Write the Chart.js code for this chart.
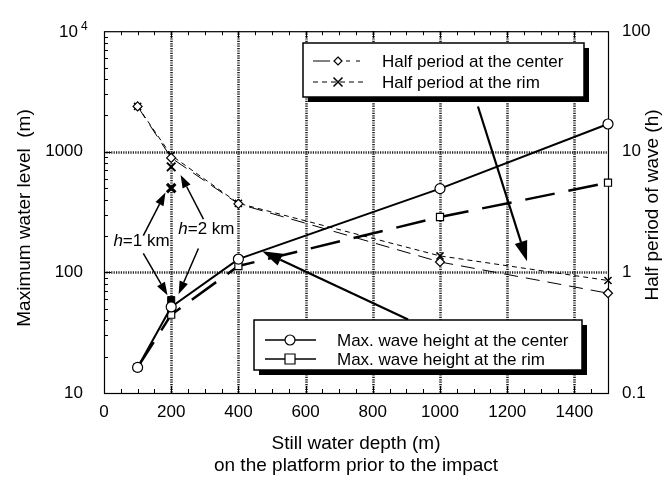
<!DOCTYPE html>
<html><head><meta charset="utf-8">
<script src="https://cdn.jsdelivr.net/npm/chart.js@4.4.0/dist/chart.umd.min.js"></script>
<style>html,body{margin:0;padding:0;background:#fff}#wrap{width:671px;height:477px}</style>
</head><body><div id="wrap"><canvas id="c" width="671" height="477"></canvas></div>
<script>
// ---- data ----
const depths = [100, 200, 400, 1000, 1500];
const heightCenter = [16.3, 51.7, 129, 495, 1700];   // m, left axis
const heightRim = [16.3, 44.6, 113, 288, 554];       // m, left axis
const periodCenter = [23.8, 8.9, 3.7, 1.22, 0.672];  // h, right axis
const periodRim = [23.8, 9.35, 3.74, 1.37, 0.857];   // h, right axis
const extraDepth = [200];
const h1Height = [58.9];
const h1Period = [5.0];
const h2Period = [7.5];
const xTicks = [0, 200, 400, 600, 800, 1000, 1200, 1400];
const yTicks = [10, 100, 1000, 10000];
const y2Ticks = [0.1, 1, 10, 100];

// annotations in data coordinates (x: m, y: left axis m)
const arrows = [
  {x1:117, y1:202, x2:183, y2:459, w:1.5, hl:13, hw:9},
  {x1:117, y1:144, x2:189, y2:64.7, w:1.5, hl:13, hw:9},
  {x1:296, y1:277, x2:228, y2:643, w:1.5, hl:13, hw:9},
  {x1:281, y1:158, x2:222, y2:66, w:1.5, hl:13, hw:9},
  {x1:1113, y1:2375, x2:1259, y2:124, w:2.2, hl:20, hw:13},
  {x1:905, y1:40.6, x2:471, y2:150, w:2.2, hl:20, hw:13}
];
const hLabels = [{x:28, y:180, t:'=1 km'}, {x:221, y:226, t:'=2 km'}];

const pts = (xs, ys) => xs.map((x, i) => ({x, y: ys[i]}));
const FONT = '"Liberation Sans", Arial, sans-serif';

function drawMarker(ctx, style, x, y, r, fill) {
  ctx.save();
  ctx.lineWidth = 1.2; ctx.strokeStyle = '#000'; ctx.fillStyle = fill || '#fff';
  ctx.setLineDash([]);
  ctx.beginPath();
  if (style === 'circle') { ctx.arc(x, y, r, 0, Math.PI*2); ctx.fill(); ctx.stroke(); }
  else if (style === 'rect') { ctx.rect(x-r, y-r, 2*r, 2*r); ctx.fill(); ctx.stroke(); }
  else if (style === 'rectRot') { ctx.moveTo(x, y-r); ctx.lineTo(x+r, y); ctx.lineTo(x, y+r); ctx.lineTo(x-r, y); ctx.closePath(); ctx.fill(); ctx.stroke(); }
  else if (style === 'crossRot') { ctx.lineWidth = 1.5; ctx.moveTo(x-r, y-r); ctx.lineTo(x+r, y+r); ctx.moveTo(x+r, y-r); ctx.lineTo(x-r, y+r); ctx.stroke(); }
  ctx.restore();
}

function arrow(ctx, x1, y1, x2, y2, w, hl, hw) {
  const a = Math.atan2(y2-y1, x2-x1);
  const bx = x2 - hl*Math.cos(a), by = y2 - hl*Math.sin(a);
  ctx.save();
  ctx.strokeStyle = '#000'; ctx.fillStyle = '#000'; ctx.lineWidth = w; ctx.setLineDash([]);
  ctx.beginPath(); ctx.moveTo(x1, y1); ctx.lineTo(bx, by); ctx.stroke();
  ctx.beginPath(); ctx.moveTo(x2, y2);
  ctx.lineTo(bx + hw/2*Math.sin(a), by - hw/2*Math.cos(a));
  ctx.lineTo(bx - hw/2*Math.sin(a), by + hw/2*Math.cos(a));
  ctx.closePath(); ctx.fill();
  ctx.restore();
}

const framePlugin = {
  id: 'frame',
  beforeDatasetsDraw(chart) {
    const {ctx, chartArea: ca, scales: {x, y}} = chart;
    ctx.save();
    // dotted grid
    ctx.strokeStyle = '#222'; ctx.lineWidth = 2.6; ctx.setLineDash([1.2, 1.2]);
    xTicks.filter(v => v > 0).forEach(v => {
      const px = Math.round(x.getPixelForValue(v)) + 0.5;
      ctx.beginPath(); ctx.moveTo(px, ca.top); ctx.lineTo(px, ca.bottom); ctx.stroke();
    });
    [100, 1000].forEach(v => {
      const py = Math.round(y.getPixelForValue(v)) + 0.5;
      ctx.beginPath(); ctx.moveTo(ca.left, py); ctx.lineTo(ca.right, py); ctx.stroke();
    });
    ctx.setLineDash([]);
    // frame
    ctx.strokeStyle = '#000'; ctx.lineWidth = 1.2;
    ctx.strokeRect(ca.left + 0.5, ca.top + 0.5, ca.right - ca.left, ca.bottom - ca.top);
    // minor ticks
    ctx.lineWidth = 1;
    for (let v = 50; v < 1500; v += 50) {
      const px = Math.round(x.getPixelForValue(v)) + 0.5;
      const L = (v % 200 === 0) ? 7 : 4;
      ctx.beginPath(); ctx.moveTo(px, ca.bottom); ctx.lineTo(px, ca.bottom - L);
      ctx.moveTo(px, ca.top); ctx.lineTo(px, ca.top + L); ctx.stroke();
    }
    for (let d = 10; d < 10000; d *= 10) {
      for (let m = 1; m < 10; m++) {
        const py = Math.round(y.getPixelForValue(d*m)) + 0.5;
        ctx.beginPath(); ctx.moveTo(ca.left, py); ctx.lineTo(ca.left + (m === 1 ? 7 : 4), py); ctx.stroke();
      }
    }
    ctx.restore();
  },
  afterDatasetsDraw(chart) {
    const {ctx, chartArea: ca, scales: {x, y}} = chart;
    ctx.save();
    // arrows
    arrows.forEach(a => arrow(ctx, x.getPixelForValue(a.x1), y.getPixelForValue(a.y1),
      x.getPixelForValue(a.x2), y.getPixelForValue(a.y2), a.w, a.hl, a.hw));
    // h labels
    ctx.fillStyle = '#000'; ctx.textBaseline = 'middle'; ctx.textAlign = 'left';
    hLabels.forEach(l => {
      const px = x.getPixelForValue(l.x), py = y.getPixelForValue(l.y);
      ctx.font = 'italic 17px ' + FONT; ctx.fillText('h', px, py);
      const w = ctx.measureText('h').width;
      ctx.font = '17px ' + FONT; ctx.fillText(l.t, px + w, py);
    });
    // legend boxes
    const box = (x0, y0, x1, y1) => {
      ctx.fillStyle = '#000'; ctx.fillRect(x0 + 5, y0 + 5, x1 - x0, y1 - y0);
      ctx.fillStyle = '#fff'; ctx.fillRect(x0, y0, x1 - x0, y1 - y0);
      ctx.strokeStyle = '#000'; ctx.lineWidth = 1.5; ctx.setLineDash([]);
      ctx.strokeRect(x0, y0, x1 - x0, y1 - y0);
    };
    const seg = (x0, x1, yy, dash, w) => {
      ctx.save(); ctx.strokeStyle = '#000'; ctx.lineWidth = w; ctx.setLineDash(dash);
      ctx.beginPath(); ctx.moveTo(x0, yy); ctx.lineTo(x1, yy); ctx.stroke(); ctx.restore();
    };
    ctx.font = '17px ' + FONT; ctx.textBaseline = 'middle'; ctx.textAlign = 'left';
    box(303, 43, 584, 97);
    seg(313, 330, 61, [], 1); seg(346, 364, 61, [4, 6], 1); drawMarker(ctx, 'rectRot', 338, 61, 4);
    seg(313, 364, 82, [5, 4], 1); drawMarker(ctx, 'crossRot', 338, 82, 4.5);
    ctx.fillStyle = '#000';
    ctx.fillText('Half period at the center', 382, 62);
    ctx.fillText('Half period at the rim', 382, 83);
    box(254, 320, 582, 370);
    seg(265, 316, 340, [], 1.3); drawMarker(ctx, 'circle', 290, 340, 5);
    seg(265, 316, 359, [], 1.3); drawMarker(ctx, 'rect', 290, 359, 5);
    ctx.fillStyle = '#000';
    ctx.fillText('Max. wave height at the center', 337, 341);
    ctx.fillText('Max. wave height at the rim', 337, 360);
    // 10^4 label
    ctx.textAlign = 'right'; ctx.font = '17px ' + FONT;
    const py4 = y.getPixelForValue(10000);
    ctx.fillText('10', 78, py4 + 1);
    ctx.font = '12px ' + FONT; ctx.textAlign = 'left';
    ctx.fillText('4', 81, py4 - 5);
    // axis titles
    ctx.fillStyle = '#000'; ctx.textAlign = 'center'; ctx.font = '19px ' + FONT;
    const cx = (ca.left + ca.right) / 2;
    ctx.fillText('Still water depth (m)', cx, 444);
    ctx.fillText('on the platform prior to the impact', cx, 466);
    ctx.save(); ctx.translate(25, 218); ctx.rotate(-Math.PI/2);
    ctx.fillText('Maximum water level  (m)', 0, 0); ctx.restore();
    ctx.save(); ctx.translate(653, 205); ctx.rotate(-Math.PI/2);
    ctx.fillText('Half period of wave (h)', 0, 0); ctx.restore();
    ctx.restore();
  }
};

const base = {showLine: true, borderColor: '#000', pointBorderColor: '#000', pointBackgroundColor: '#fff', clip: false, tension: 0};
const chart = new Chart(document.getElementById('c'), {
  type: 'scatter',
  data: {
    datasets: [
      {...base, label: 'Max. wave height at the center', data: pts(depths, heightCenter), yAxisID: 'y',
        borderWidth: 2, pointStyle: 'circle', pointRadius: 5, pointBorderWidth: 1.2},
      {...base, label: 'Max. wave height at the rim', data: pts(depths, heightRim), yAxisID: 'y',
        borderWidth: 2.5, borderDash: [30, 14], pointStyle: 'rect', pointRadius: 5, pointBorderWidth: 1.2},
      {...base, label: 'Half period at the center', data: pts(depths, periodCenter), yAxisID: 'y2',
        borderWidth: 1, borderDash: [14, 8], pointStyle: 'rectRot', pointRadius: 4.5, pointBorderWidth: 1.2},
      {...base, label: 'Half period at the rim', data: pts(depths, periodRim), yAxisID: 'y2',
        borderWidth: 1, borderDash: [5, 4], pointStyle: 'crossRot', pointRadius: 5, pointBorderWidth: 1.5},
      {...base, showLine: false, label: 'h=1 km height', data: pts(extraDepth, h1Height), yAxisID: 'y',
        pointStyle: 'rect', pointRadius: 5, pointBackgroundColor: '#000'},
      {...base, showLine: false, label: 'h=1 km period', data: pts(extraDepth, h1Period), yAxisID: 'y2',
        pointStyle: 'crossRot', pointRadius: 6, pointBorderWidth: 3},
      {...base, showLine: false, label: 'h=2 km period', data: pts(extraDepth, h2Period), yAxisID: 'y2',
        pointStyle: 'crossRot', pointRadius: 6, pointBorderWidth: 2}
    ]
  },
  options: {
    responsive: false, animation: false, devicePixelRatio: 1,
    layout: {padding: {top: 23, left: 0, right: 0, bottom: 0}},
    plugins: {legend: {display: false}, tooltip: {enabled: false}},
    scales: {
      x: {type: 'linear', min: 0, max: 1500,
        afterBuildTicks: s => { s.ticks = xTicks.map(v => ({value: v})); },
        afterFit: s => { s.height = 84; },
        grid: {display: false, drawTicks: false},
        border: {display: false},
        ticks: {color: '#000', font: {family: FONT, size: 17}, padding: 9, maxRotation: 0, autoSkip: false,
          callback: v => String(v)}},
      y: {type: 'logarithmic', position: 'left', min: 10, max: 10000,
        afterBuildTicks: s => { s.ticks = yTicks.map(v => ({value: v})); },
        afterFit: s => { s.width = 104; },
        grid: {display: false, drawTicks: false},
        border: {display: false},
        ticks: {color: '#000', font: {family: FONT, size: 17}, padding: 21, autoSkip: false,
          callback: v => v === 10000 ? '' : String(v)}},
      y2: {type: 'logarithmic', position: 'right', min: 0.1, max: 100,
        afterBuildTicks: s => { s.ticks = y2Ticks.map(v => ({value: v})); },
        afterFit: s => { s.width = 63; },
        grid: {display: false, drawTicks: false},
        border: {display: false},
        ticks: {color: '#000', font: {family: FONT, size: 17}, padding: 14, autoSkip: false,
          callback: v => String(v)}}
    }
  },
  plugins: [framePlugin]
});
</script></body></html>
